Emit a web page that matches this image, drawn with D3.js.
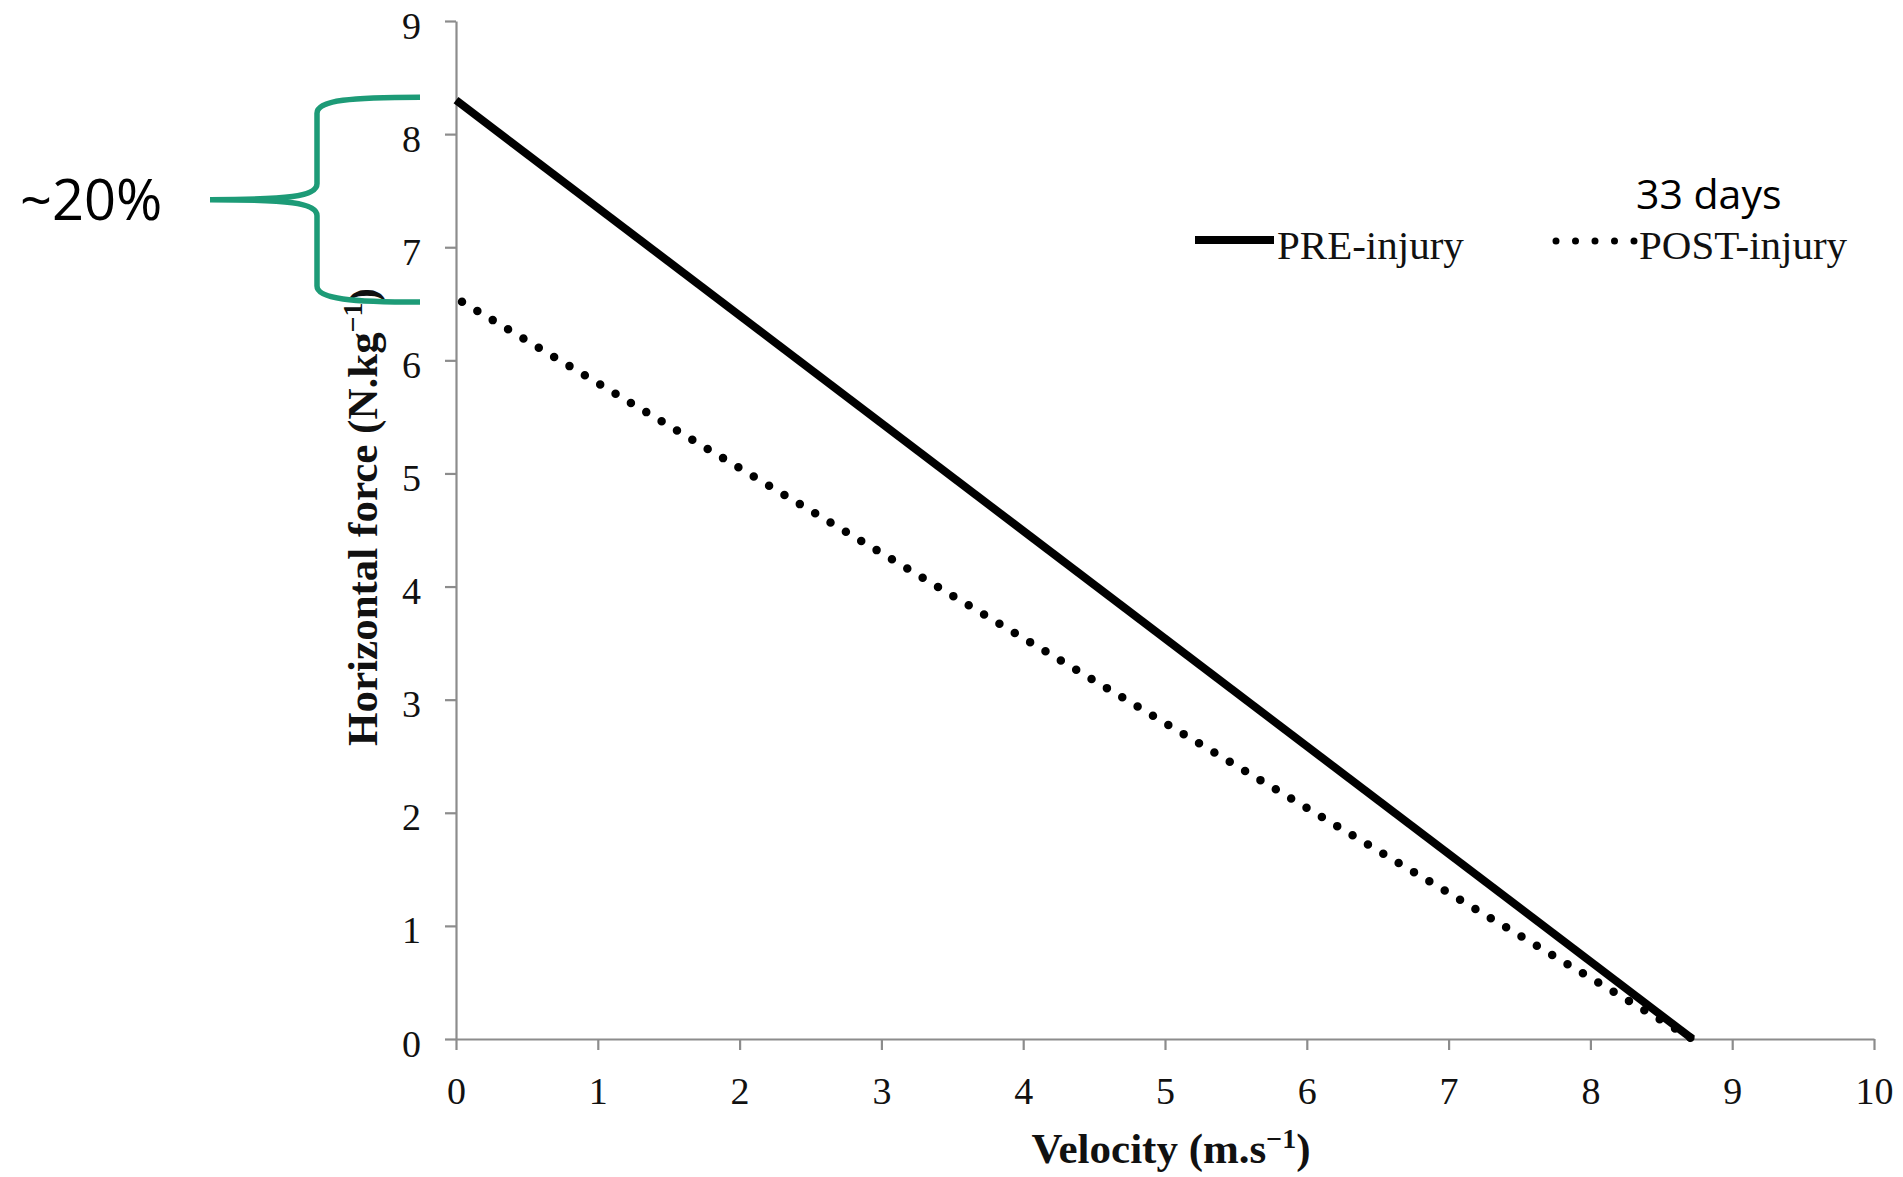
<!DOCTYPE html>
<html>
<head>
<meta charset="utf-8">
<script src="https://cdn.jsdelivr.net/npm/d3@7"></script>
<style>
  html, body { margin: 0; padding: 0; background: #fff; }
  svg { display: block; }
</style>
</head>
<body>
<script>
// ---- data ----
const velocity = [0, 8.72];          // m.s-1
const preInjury = [8.3, 0];           // N.kg-1
const postInjury = [6.55, 0];         // N.kg-1
const xTickValues = [0, 1, 2, 3, 4, 5, 6, 7, 8, 9, 10];
const yTickValues = [0, 1, 2, 3, 4, 5, 6, 7, 8, 9];
const seriesNames = ["PRE-injury", "POST-injury"];
const annotationText = "~20%";
const daysText = "33 days";

// ---- layout ----
const W = 1903, H = 1177;
const mLeft = 456, mRight = 1874, mTop = 21, mBottom = 1039;
const axisColor = "#8c8c8c";
const green = "#1d9b77";
const serif = "'Liberation Serif', 'Times New Roman', serif";
const sans = "'Open Sans', 'Liberation Sans', sans-serif";

const svg = d3.select("body").append("svg").attr("width", W).attr("height", H);

const x = d3.scaleLinear().domain([0, 10]).range([mLeft, mRight]);
const y = d3.scaleLinear().domain([0, 9]).range([mBottom, mTop]);

// axes
const xAxis = svg.append("g").attr("transform", `translate(0,${mBottom})`)
  .call(d3.axisBottom(x).tickValues(xTickValues).tickSize(11).tickSizeOuter(0).tickPadding(18));
const yAxis = svg.append("g").attr("transform", `translate(${mLeft},0)`)
  .call(d3.axisLeft(y).tickValues(yTickValues).tickSize(11).tickSizeOuter(0).tickPadding(24));

[xAxis, yAxis].forEach(g => {
  g.select(".domain").attr("stroke", axisColor).attr("stroke-width", 2.2);
  g.selectAll(".tick line").attr("stroke", axisColor).attr("stroke-width", 2.2);
  g.selectAll(".tick text").attr("fill", "#111").style("font-family", serif).style("font-size", "38px");
});
yAxis.selectAll(".tick text").attr("dy", "0.45em");
xAxis.selectAll(".tick text").attr("dy", "0.95em");

// lines
const rowsPre = velocity.map((v, i) => ({ v, f: preInjury[i] }));
const rowsPost = velocity.map((v, i) => ({ v, f: postInjury[i] }));
const line = d3.line().x(d => x(d.v)).y(d => y(d.f));

svg.append("path").datum(rowsPre).attr("d", line)
  .attr("fill", "none").attr("stroke", "#000").attr("stroke-width", 8);
svg.append("path").datum(rowsPost).attr("d", line)
  .attr("fill", "none").attr("stroke", "#000").attr("stroke-width", 8.5)
  .attr("stroke-linecap", "round").attr("stroke-dasharray", "0 17.9")
  .attr("stroke-dashoffset", -7);

// axis titles
svg.append("text")
  .attr("x", (mLeft + mRight) / 2 + 6).attr("y", 1163)
  .attr("text-anchor", "middle")
  .style("font-family", serif).style("font-weight", "bold").style("font-size", "43px")
  .attr("fill", "#111")
  .html("Velocity (m.s<tspan dy='-15' font-size='28px'>−1</tspan><tspan dy='15'>)</tspan>");

svg.append("text")
  .attr("transform", `translate(377,${(mTop + mBottom) / 2 - 13}) rotate(-90)`)
  .attr("text-anchor", "middle")
  .style("font-family", serif).style("font-weight", "bold").style("font-size", "43px")
  .attr("fill", "#111")
  .html("Horizontal force (N.kg<tspan dy='-15' font-size='28px'>−1</tspan><tspan dy='15'>)</tspan>");

// legend
const leg = svg.append("g");
leg.append("line").attr("x1", 1195).attr("x2", 1274).attr("y1", 240).attr("y2", 240)
  .attr("stroke", "#000").attr("stroke-width", 8);
leg.append("text").attr("x", 1277).attr("y", 259)
  .style("font-family", serif).style("font-size", "41px").attr("fill", "#111")
  .text(seriesNames[0]);
leg.append("line").attr("x1", 1556).attr("x2", 1636).attr("y1", 241).attr("y2", 241)
  .attr("stroke", "#000").attr("stroke-width", 7)
  .attr("stroke-linecap", "round").attr("stroke-dasharray", "0 19.5");
leg.append("text").attr("x", 1639).attr("y", 259)
  .style("font-family", serif).style("font-size", "41px").attr("fill", "#111")
  .text(seriesNames[1]);

// "33 days"
svg.append("text").attr("x", 1636).attr("y", 209)
  .style("font-family", sans).style("font-size", "41px").attr("fill", "#000")
  .text(daysText);

// brace annotation
const bTop = y(preInjury[0]) - 3;
const bBot = y(postInjury[0]) + 4;
const bMid = (bTop + bBot) / 2;
const bx = 317, bEnd = 420, bTip = 210;
const bracePath =
  `M${bEnd},${bTop} C${bx + 35},${bTop} ${bx},${bTop + 3} ${bx},${bTop + 16} ` +
  `L${bx},${bMid - 16} C${bx},${bMid - 3} ${bx - 30},${bMid} ${bTip},${bMid} ` +
  `M${bTip},${bMid} C${bx - 30},${bMid} ${bx},${bMid + 3} ${bx},${bMid + 16} ` +
  `L${bx},${bBot - 16} C${bx},${bBot - 3} ${bx + 35},${bBot} ${bEnd},${bBot}`;
svg.append("path").attr("d", bracePath)
  .attr("fill", "none").attr("stroke", green).attr("stroke-width", 5.5)
  .attr("stroke-linejoin", "round");

svg.append("text").attr("x", 20).attr("y", 220)
  .style("font-family", sans).style("font-size", "56px").attr("fill", "#000")
  .text(annotationText);
</script>
</body>
</html>
